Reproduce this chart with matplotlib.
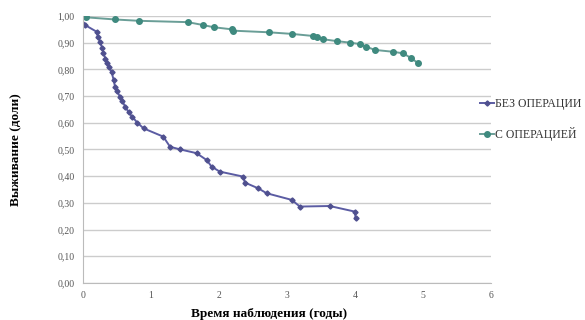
import matplotlib
matplotlib.use('Agg')
import matplotlib.pyplot as plt

# Без операции (годы, доля выживших)
t_bez = [0.0, 0.03, 0.2, 0.22, 0.25, 0.28, 0.30, 0.33, 0.35, 0.38, 0.42, 0.45, 0.47, 0.50,
         0.54, 0.58, 0.62, 0.67, 0.72, 0.80, 0.89, 1.18, 1.28, 1.43, 1.67, 1.82, 1.89,
         2.01, 2.36, 2.38, 2.58, 2.70, 3.07, 3.19, 3.63, 4.0, 4.01]
s_bez = [0.97, 0.966, 0.941, 0.92, 0.904, 0.88, 0.86, 0.84, 0.823, 0.81, 0.79, 0.76, 0.735, 0.72,
         0.698, 0.68, 0.66, 0.64, 0.623, 0.60, 0.579, 0.548, 0.51, 0.50, 0.486, 0.46, 0.436,
         0.417, 0.398, 0.376, 0.354, 0.336, 0.311, 0.286, 0.288, 0.267, 0.242]

# С операцией
t_op = [0.0, 0.05, 0.47, 0.82, 1.54, 1.77, 1.92, 2.19, 2.21, 2.73, 3.07, 3.39, 3.44,
        3.53, 3.73, 3.93, 4.07, 4.17, 4.29, 4.56, 4.71, 4.83, 4.93]
s_op = [1.0, 0.995, 0.987, 0.982, 0.977, 0.966, 0.958, 0.950, 0.945, 0.939, 0.933, 0.925, 0.920,
        0.913, 0.906, 0.900, 0.895, 0.885, 0.873, 0.866, 0.860, 0.842, 0.823]

y_ticks = [0.0, 0.1, 0.2, 0.3, 0.4, 0.5, 0.6, 0.7, 0.8, 0.9, 1.0]
x_ticks = [0, 1, 2, 3, 4, 5, 6]

plt.rcParams['font.family'] = ['Liberation Serif', 'DejaVu Serif']

fig = plt.figure(figsize=(5.85, 3.2), dpi=100)
ax = fig.add_axes([0.142, 0.116, 0.697, 0.834])

ax.plot(t_bez, s_bez, color='#5b5ca3', linewidth=1.4, marker='D', markersize=2.6,
        markerfacecolor='#4f508f', markeredgecolor='#4f508f', label='БЕЗ ОПЕРАЦИИ')
ax.plot(t_op, s_op, color='#6a9e97', linewidth=1.4, marker='o', markersize=4,
        markerfacecolor='#3f8a7f', markeredgecolor='#3f8a7f', label='С ОПЕРАЦИЕЙ')

ax.set_xlim(0, 6)
ax.set_ylim(0, 1.0)
ax.set_xticks(x_ticks)
ax.set_xticklabels([str(v) for v in x_ticks])
ax.set_yticks(y_ticks)
ax.set_yticklabels([f'{v:.2f}'.replace('.', ',') for v in y_ticks])
ax.tick_params(axis='both', labelsize=7, colors='#555555', length=0, pad=6)
ax.grid(axis='y', color='#cccccc', linewidth=1)
ax.set_axisbelow(True)
for side in ['top', 'right']:
    ax.spines[side].set_visible(False)
for side in ['left', 'bottom']:
    ax.spines[side].set_color('#bbbbbb')

ax.set_xlabel('Время наблюдения (годы)', fontsize=9.5, fontweight='bold')
ax.xaxis.set_label_coords(0.456, -0.095)
ax.set_ylabel('Выживание (доли)', fontsize=9.5, fontweight='bold')
ax.yaxis.set_label_coords(-0.15, 0.5)

leg = ax.legend(loc='upper left', bbox_to_anchor=(0.962, 0.71), frameon=False,
                fontsize=8.5, handlelength=1.2, handletextpad=0.1, labelspacing=1.45,
                borderaxespad=0)
for t in leg.get_texts():
    t.set_color('#333333')

fig.savefig('out.png', dpi=100)
